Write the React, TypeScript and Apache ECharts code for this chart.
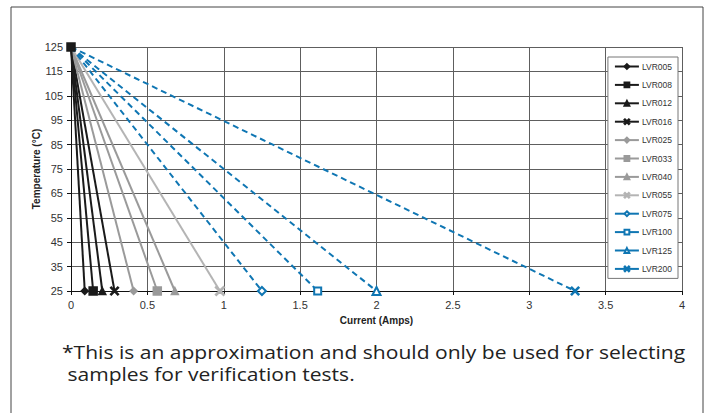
import React, { useEffect, useRef } from "react";
import * as echarts from "echarts";

const seriesNames = ["LVR005", "LVR008", "LVR012", "LVR016", "LVR025", "LVR033", "LVR040", "LVR055", "LVR075", "LVR100", "LVR125", "LVR200"];
const startCurrent = [0, 0, 0, 0, 0, 0, 0, 0, 0, 0, 0, 0];
const endCurrent = [0.09, 0.145, 0.205, 0.285, 0.41, 0.565, 0.68, 0.975, 1.25, 1.615, 2.0, 3.3];
const startTemp = 125;
const endTemp = 25;
const xTicks = { min: 0, max: 4, interval: 0.5 };
const yTicks = { min: 25, max: 125, interval: 10 };
const footnoteLines = ["*This is an approximation and should only be used for selecting", " samples for verification tests."];

const BLACK = "#1a1a1a";
const GRAY = "#9a9a9a";
const LIGHTGRAY = "#b4b4b4";
const BLUE = "#0f76b3";
const X_SYM = "path://M0,1L1,0L5,4L9,0L10,1L6,5L10,9L9,10L5,6L1,10L0,9L4,5Z";

const styles = [
  { color: BLACK, symbol: "diamond", size: 7, dashed: false },
  { color: BLACK, symbol: "rect", size: 8, dashed: false },
  { color: BLACK, symbol: "triangle", size: 7, dashed: false },
  { color: BLACK, symbol: X_SYM, size: 8, dashed: false },
  { color: GRAY, symbol: "diamond", size: 7, dashed: false },
  { color: GRAY, symbol: "rect", size: 8, dashed: false },
  { color: GRAY, symbol: "triangle", size: 7, dashed: false },
  { color: LIGHTGRAY, symbol: X_SYM, size: 9, dashed: false },
  { color: BLUE, symbol: "emptyDiamond", size: 8, dashed: true },
  { color: BLUE, symbol: "emptyRect", size: 7, dashed: true },
  { color: BLUE, symbol: "emptyTriangle", size: 8, dashed: true },
  { color: BLUE, symbol: X_SYM, size: 8, dashed: true },
];

export default function App() {
  const ref = useRef<HTMLDivElement>(null);
  useEffect(() => {
    if (!ref.current) return;
    const chart = echarts.init(ref.current, null, { renderer: "svg" });
    const series = seriesNames.map((name, i) => {
      const s = styles[i];
      const showStart = i === 1;
      return {
        name,
        type: "line",
        clip: false,
        z: i === 1 ? 10 : 2,
        symbol: s.symbol,
        symbolSize: s.size,
        showAllSymbol: true,
        color: s.color,
        itemStyle: { color: s.color, borderColor: s.color, borderWidth: 1.5 },
        lineStyle: { color: s.color, width: 2, type: s.dashed ? [6, 4] : "solid" },
        emphasis: { disabled: true },
        data: [
          showStart ? [startCurrent[i], startTemp] : { value: [startCurrent[i], startTemp], symbol: "none" },
          [endCurrent[i], endTemp],
        ],
      };
    });
    chart.setOption({
      animation: false,
      textStyle: { fontFamily: "Liberation Sans, Arial, sans-serif" },
      grid: { left: 71, right: 25, top: 47, bottom: 122, containLabel: false },
      xAxis: {
        type: "value",
        min: xTicks.min,
        max: xTicks.max,
        interval: xTicks.interval,
        name: "Current (Amps)",
        nameLocation: "middle",
        nameGap: 24,
        nameMoveOverlap: false,
        nameTextStyle: { fontSize: 10, fontWeight: "bold", color: "#222" },
        axisLine: { show: true, lineStyle: { color: "#111", width: 1 } },
        axisTick: { show: true, length: 4, lineStyle: { color: "#111" } },
        axisLabel: { fontSize: 11, color: "#333", margin: 8 },
        splitLine: { show: true, lineStyle: { color: "#5e5e5e", width: 1 } },
      },
      yAxis: {
        type: "value",
        min: yTicks.min,
        max: yTicks.max,
        interval: yTicks.interval,
        name: "Temperature (°C)",
        nameLocation: "middle",
        nameGap: 30,
        nameMoveOverlap: false,
        nameRotate: 90,
        nameTextStyle: { fontSize: 10, fontWeight: "bold", color: "#222" },
        axisLine: { show: true, lineStyle: { color: "#111", width: 1 } },
        axisTick: { show: true, length: 4, lineStyle: { color: "#111" } },
        axisLabel: { fontSize: 11, color: "#333", margin: 8 },
        splitLine: { show: true, lineStyle: { color: "#5e5e5e", width: 1 } },
      },
      legend: {
        orient: "vertical",
        right: 29,
        top: 57,
        padding: [5, 6, 5, 6],
        backgroundColor: "#fff",
        borderColor: "#777",
        borderWidth: 1,
        itemWidth: 24,
        itemHeight: 6,
        itemGap: 9.4,
        textStyle: { fontSize: 8.5, color: "#333", padding: [0, 0, 0, -2] },
        lineStyle: { type: "solid" },
        data: seriesNames,
      },
      graphic: [
        {
          type: "rect",
          shape: { x: 11, y: 7, width: 692, height: 430 },
          style: { fill: "none", stroke: "#444", lineWidth: 1 },
          silent: true,
        },
        {
          type: "text",
          x: 62,
          y: 341,
          scaleX: 1.17,
          style: {
            text: footnoteLines.join("\n"),
            fontSize: 18,
            lineHeight: 22,
            fontFamily: "Open Sans, sans-serif",
            fill: "#222",
          },
          silent: true,
        },
      ],
      series,
    });
    return () => chart.dispose();
  }, []);
  return <div ref={ref} style={{ position: "fixed", left: 0, top: 0, width: 707, height: 413, background: "#fff" }} />;
}
